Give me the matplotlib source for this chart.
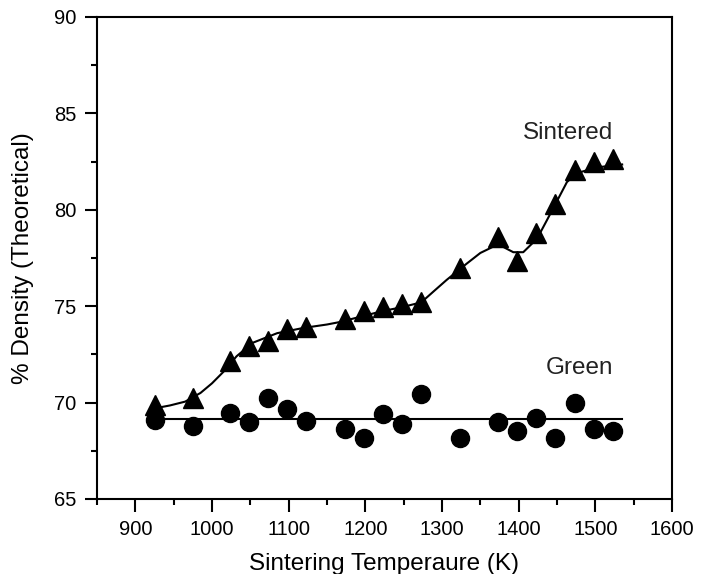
import numpy as np
import matplotlib.pyplot as plt
from matplotlib.ticker import MultipleLocator

plt.rcParams['font.family'] = ['Liberation Sans', 'DejaVu Sans']

# sintering temperatures (K)
temps = [925, 975, 1023, 1048, 1073, 1098, 1123, 1173, 1198, 1223,
         1248, 1273, 1323, 1373, 1398, 1423, 1448, 1473, 1498, 1523]

# measured densities (% theoretical)
sintered = [69.85, 70.25, 72.15, 72.95, 73.2, 73.8, 73.9, 74.35, 74.75, 74.95,
            75.1, 75.2, 77.0, 78.6, 77.35, 78.8, 80.3, 82.05, 82.5, 82.65]
green = [69.1, 68.8, 69.45, 69.0, 70.25, 69.65, 69.05, 68.65, 68.15, 69.4,
         68.9, 70.45, 68.15, 69.0, 68.5, 69.2, 68.15, 70.0, 68.65, 68.5]

# smoothed trend through the sintered points
fit_t = [925, 945, 965, 985, 1000, 1015, 1032, 1053, 1085, 1119, 1150,
         1167, 1198, 1223, 1248, 1273, 1290, 1306, 1332, 1350, 1366, 1380,
         1393, 1406, 1424, 1437, 1450, 1463, 1476, 1502, 1535]
fit_d = [69.7, 69.85, 70.05, 70.5, 71.0, 71.6, 72.4, 73.1, 73.6, 73.87,
         74.05, 74.18, 74.5, 74.75, 74.95, 75.2, 75.8, 76.36, 77.2, 77.76,
         78.07, 78.07, 77.8, 77.8, 78.5, 79.47, 80.45, 81.44, 81.9, 82.2,
         82.35]

# green density is flat: mean level
green_t = [925, 1535]
green_level = 69.17

fig = plt.figure(figsize=(7.01, 5.74), dpi=100)
ax = fig.add_axes([0.1384, 0.1307, 0.8202, 0.8397])

ax.plot(fit_t, fit_d, color='black', lw=1.5, zorder=2)
ax.plot(green_t, [green_level, green_level], color='black', lw=1.5, zorder=2)
ax.plot(temps, sintered, linestyle='none', marker='^', ms=14,
        color='black', zorder=3)
ax.plot(temps, green, linestyle='none', marker='o', ms=13,
        color='black', zorder=3)

ax.text(1464, 84.0, 'Sintered', fontsize=17.5, ha='center', va='center',
        color='#222222')
ax.text(1479, 71.8, 'Green', fontsize=17.5, ha='center', va='center',
        color='#222222')

ax.set_xlim(850, 1600)
ax.set_ylim(65, 90)
ax.xaxis.set_major_locator(MultipleLocator(100))
ax.xaxis.set_minor_locator(MultipleLocator(50))
ax.yaxis.set_major_locator(MultipleLocator(5))
ax.yaxis.set_minor_locator(MultipleLocator(2.5))
ax.tick_params(which='both', direction='out', top=False, right=False,
               width=1.5, labelsize=14.5)
ax.tick_params(which='major', length=9, pad=6)
ax.tick_params(which='minor', length=4)
for sp in ax.spines.values():
    sp.set_linewidth(1.5)

ax.set_xlabel('Sintering Temperaure (K)', fontsize=17.5, labelpad=10)
ax.set_ylabel('% Density (Theoretical)', fontsize=17.5, labelpad=14)

fig.savefig('out.png', dpi=100)
